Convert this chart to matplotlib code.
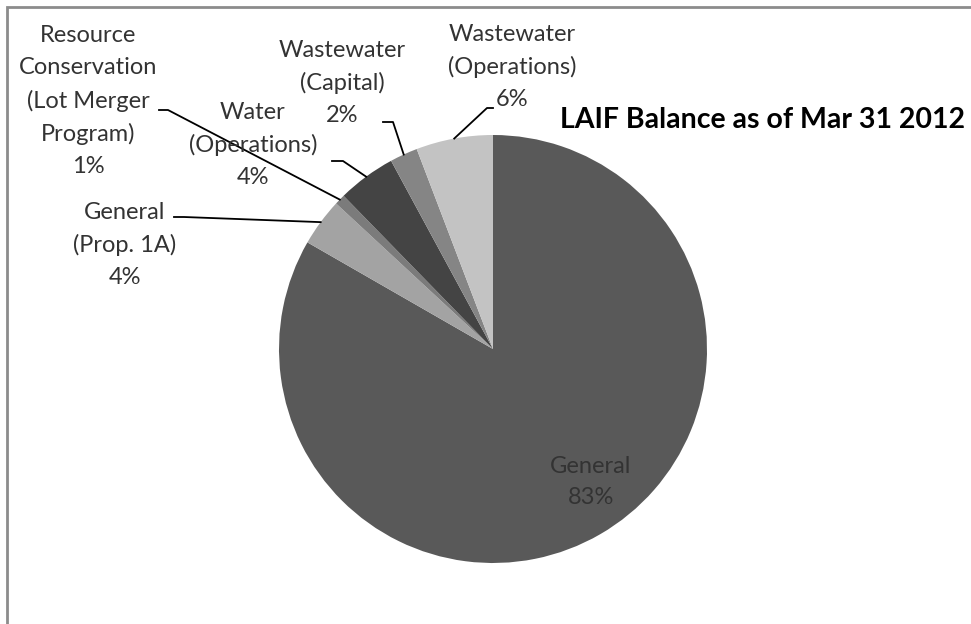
import matplotlib.pyplot as plt
import matplotlib.patches as mpatches
import numpy as np

# data (percent of LAIF balance)
categories = ['General', 'General\n(Prop. 1A)',
              'Resource\nConservation\n(Lot Merger\nProgram)',
              'Water\n(Operations)', 'Wastewater\n(Capital)',
              'Wastewater\n(Operations)']
shares = [83.3, 3.6, 0.8, 4.4, 2.1, 5.8]
colors = ['#595959', '#a3a3a3', '#7b7b7b', '#444444', '#858585', '#c3c3c3']
title = 'LAIF Balance as of Mar 31 2012'

W, H = 971, 624
fig = plt.figure(figsize=(W / 100, H / 100), dpi=100)
ax = fig.add_axes([0, 0, 1, 1])

cx, cy, r = 493, H - 349, 214
wedges, _ = ax.pie(shares, colors=colors, startangle=90, counterclock=False,
                   radius=r, center=(cx, cy), frame=True)
ax.set_xlim(0, W)
ax.set_ylim(0, H)
ax.set_aspect('equal')
ax.axis('off')

plt.rcParams['font.family'] = ['Lato', 'DejaVu Sans']
fs = 17
ls = 1.63
tcol = '#333333'

# label layout: text centre (image px), elbow start, elbow end
layout = {
    1: ((125, 245), (174, 217), (184, 217)),
    2: ((88, 101), (159, 110), (168, 110)),
    3: ((253, 145), (332, 161), (343, 161)),
    4: ((342, 83), (383, 122), (393, 122)),
    5: ((512, 67), (493, 108), (487, 108)),
}

for i, w in enumerate(wedges):
    pct = '%d%%' % round(shares[i])
    txt = categories[i] + '\n' + pct
    if i == 0:
        ax.text(591, H - 482, txt, ha='center', va='center', fontsize=fs,
                color=tcol, linespacing=ls)
        continue
    (tx, ty), (ax0, ay0), (ax1, ay1) = layout[i]
    ax.text(tx, H - ty, txt, ha='center', va='center', fontsize=fs,
            color=tcol, linespacing=ls)
    mid = np.deg2rad((w.theta1 + w.theta2) / 2)
    ex, ey = cx + r * np.cos(mid), cy + r * np.sin(mid)
    ax.plot([ax0, ax1, ex], [H - ay0, H - ay1, ey], color='black', lw=1.3)

ax.text(762, H - 120, title, ha='center', va='center', fontsize=20.5,
        fontweight='bold', color='black')

# chart frame (left and top edges visible)
fig.patches.append(mpatches.Rectangle((7 / W, -0.1), 1.2, (H - 7) / H + 0.1,
                                      transform=fig.transFigure, fill=False,
                                      edgecolor='#8c8c8c', lw=2))

fig.savefig('out.png', dpi=100, facecolor='white')
